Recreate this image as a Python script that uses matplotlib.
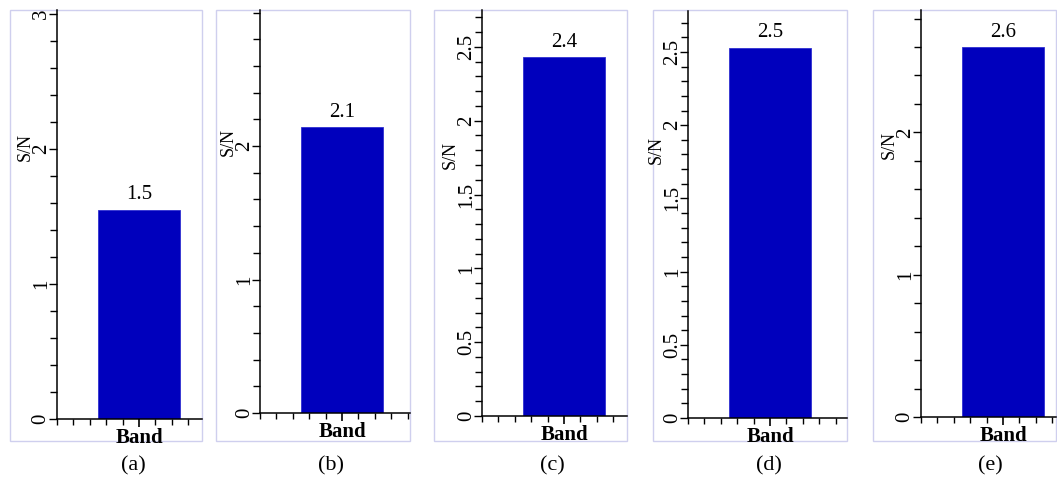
import matplotlib
matplotlib.use("Agg")
import matplotlib.pyplot as plt
from matplotlib.ticker import MultipleLocator, FixedLocator, FuncFormatter
from matplotlib.patches import Rectangle

# ---- data ----
panels = ["(a)", "(b)", "(c)", "(d)", "(e)"]
category = ["Band"]
sn_values = [1.55, 2.14, 2.43, 2.53, 2.60]
sn_labels = ["1.5", "2.1", "2.4", "2.5", "2.6"]
y_max = [3.03, 3.02, 2.75, 2.78, 2.86]
y_major = [[0, 1, 2, 3], [0, 1, 2], [0, 0.5, 1, 1.5, 2, 2.5], [0, 0.5, 1, 1.5, 2, 2.5], [0, 1, 2]]
y_minor_step = [0.2, 0.2, 0.1, 0.1, 0.2]

W, H = 1057, 480
fig = plt.figure(figsize=(W / 100, H / 100), dpi=100)
plt.rcParams['font.family'] = ['Liberation Serif', 'DejaVu Serif']

# pixel layout: (frame_left, axis_left, axis_right, axis_top, axis_bottom, caption_x, ylabel_y)
layout = [
    (10, 57, 202, 10, 419, 133, 147),
    (216, 260, 410, 10, 413, 331, 142),
    (434, 482, 627, 10, 416, 552, 155),
    (653, 688, 847, 11, 418, 769, 150),
    (873, 921, 1056, 10, 417, 990, 145),
]
frame_top, frame_bottom = 10, 441
bar_color = "#0000bd"
frame_color = "#cfcfee"

for i, (fl, al, ar, at, ab, cx, ly) in enumerate(layout):
    # light frame
    fig.add_artist(Rectangle((fl / W, 1 - frame_bottom / H), (ar - fl) / W,
                             (frame_bottom - frame_top) / H, transform=fig.transFigure,
                             fill=False, edgecolor=frame_color, lw=1.0, zorder=0))
    ax = fig.add_axes([al / W, 1 - ab / H, (ar - al) / W, (ab - at) / H])
    ax.patch.set_alpha(0)
    ax.bar([0], [sn_values[i]], width=1.0, color=bar_color, edgecolor="#3030d0", lw=0.6)
    ax.text(0, sn_values[i] + 0.04 * (y_max[i] / 3), sn_labels[i], ha="center", va="bottom",
            fontsize=15)
    ax.set_xlim(-1.0, (ar - al) / 82.0 - 1.0)
    ax.set_ylim(0, y_max[i])
    for s in ("top", "right"):
        ax.spines[s].set_visible(False)
    ax.spines["left"].set_linewidth(1.1)
    ax.spines["bottom"].set_linewidth(1.1)
    ax.yaxis.set_major_locator(FixedLocator(y_major[i]))
    ax.yaxis.set_minor_locator(MultipleLocator(y_minor_step[i]))
    ax.yaxis.set_major_formatter(FuncFormatter(lambda v, p: "%g" % v))
    ax.tick_params(axis="y", which="major", length=6, width=1, labelsize=15, pad=-1.5,
                   labelrotation=90)
    ax.tick_params(axis="y", which="minor", length=5, width=1)
    for lab in ax.get_yticklabels():
        lab.set_va("center")
    ax.set_xticks([0])
    ax.set_xticklabels(category, fontweight="bold", fontsize=15)
    ax.xaxis.set_minor_locator(MultipleLocator(0.2))
    ax.tick_params(axis="x", which="major", length=6, width=1.2, pad=0.5)
    ax.tick_params(axis="x", which="minor", length=4, width=1)
    fig.text((al - 32) / W, 1 - ly / H, "S/N", rotation=90, ha="center", va="center",
             fontsize=13)
    fig.text(cx / W, 1 - 466 / H, panels[i], ha="center", va="center", fontsize=16)

fig.savefig("out.png", dpi=100)
